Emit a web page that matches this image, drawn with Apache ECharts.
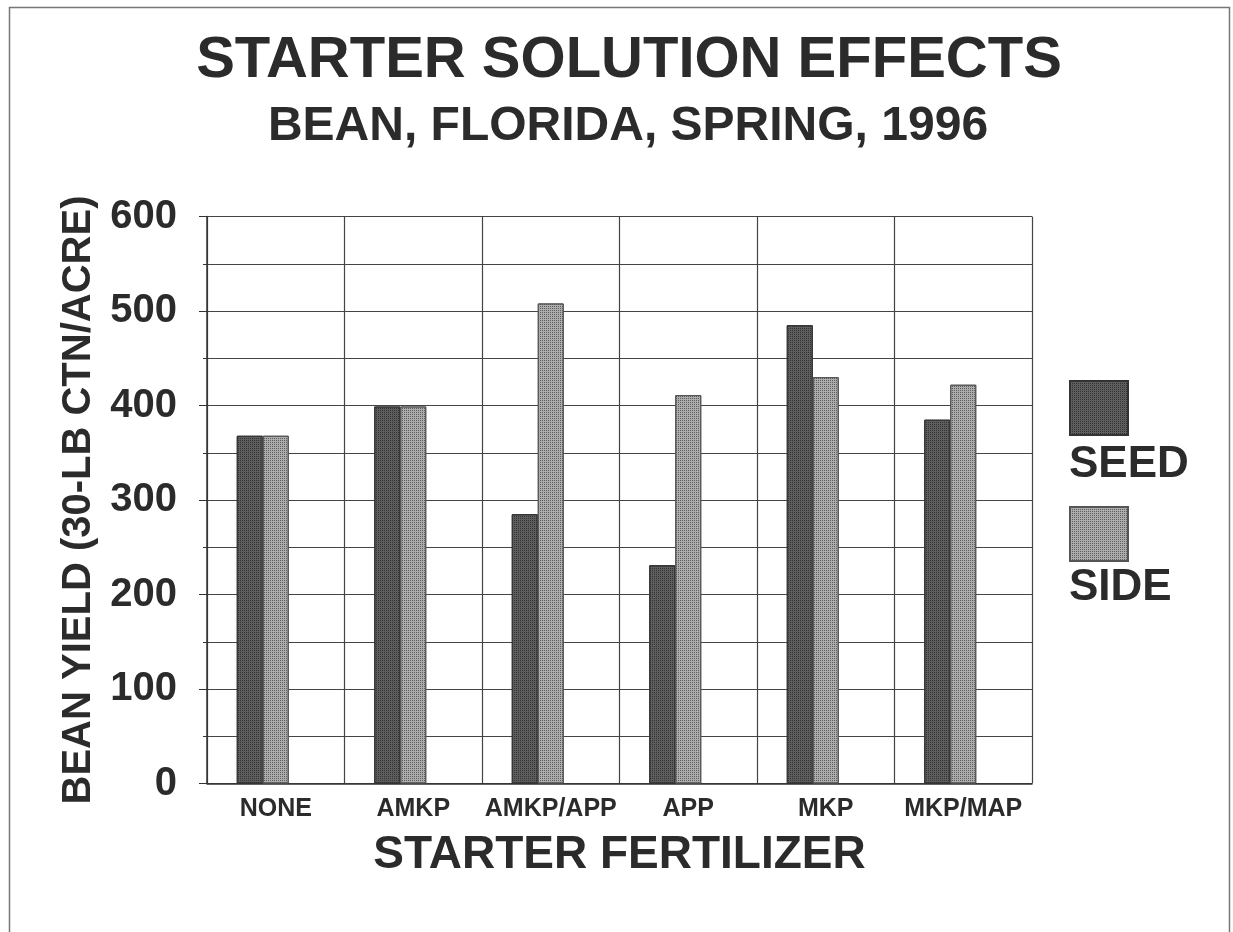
<!DOCTYPE html>
<html>
<head>
<meta charset="utf-8">
<script src="https://cdn.jsdelivr.net/npm/echarts@6/dist/echarts.min.js"></script>
<style>
  html, body { margin: 0; padding: 0; background: #fff; }
  #chart { width: 1233px; height: 932px; }
</style>
</head>
<body>
<div id="chart"></div>
<script>
// data
var categories = ["NONE", "AMKP", "AMKP/APP", "APP", "MKP", "MKP/MAP"];
var seedValues = [368, 399, 285, 231, 485, 385];
var sideValues = [368, 399, 508, 411, 430, 422];
var seriesNames = ["SEED", "SIDE"];

var font = "'Liberation Sans', Arial, sans-serif";
var ink = "#2b2b2b";
var gridColor = "#444";

var chart = echarts.init(document.getElementById("chart"));

var option = {
  backgroundColor: "#fff",
  animation: false,
  title: [
    {
      text: "STARTER SOLUTION EFFECTS",
      left: 624,
      top: 27,
      textAlign: "center",
      textStyle: { fontFamily: font, fontSize: 58, fontWeight: "bold", color: ink },
    },
    {
      text: "BEAN, FLORIDA, SPRING, 1996",
      left: 623,
      top: 98,
      textAlign: "center",
      textStyle: { fontFamily: font, fontSize: 48, fontWeight: "bold", color: ink },
    },
  ],
  legend: {
    data: seriesNames,
    orient: "vertical",
    left: 1069,
    top: 380,
    padding: 0,
    itemWidth: 58,
    itemHeight: 54,
    itemGap: 70,
    icon: "rect",
    formatter: function () { return ""; },
    selectedMode: false,
  },
  grid: {
    left: 207,
    right: 201,
    top: 216.5,
    bottom: 148.5,
  },
  xAxis: {
    type: "category",
    data: categories,
    name: "STARTER FERTILIZER",
    nameLocation: "middle",
    nameGap: 49,
    nameTextStyle: { fontFamily: font, fontSize: 46, fontWeight: "bold", color: ink },
    axisLine: { lineStyle: { color: "#333", width: 1.5 } },
    axisTick: { interval: 0, length: 10, lineStyle: { color: "#333" } },
    axisLabel: { interval: 0, fontFamily: font, fontSize: 25, fontWeight: "bold", color: ink, margin: 13 },
    splitLine: { show: true, interval: 0, lineStyle: { color: gridColor, width: 1.2 } },
  },
  yAxis: {
    type: "value",
    min: 0,
    max: 600,
    interval: 100,
    name: "BEAN YIELD (30-LB CTN/ACRE)",
    nameLocation: "middle",
    nameRotate: 90,
    nameGap: 105,
    nameTextStyle: { fontFamily: font, fontSize: 40, fontWeight: "bold", color: ink },
    axisLine: { show: true, lineStyle: { color: "#333", width: 1.5 } },
    axisTick: { show: true, length: 8, lineStyle: { color: "#333" } },
    minorTick: { show: true, splitNumber: 2, length: 4, lineStyle: { color: "#333" } },
    axisLabel: { fontFamily: font, fontSize: 40, fontWeight: "bold", color: ink, margin: 30 },
    splitLine: { show: true, lineStyle: { color: gridColor, width: 1.2 } },
    minorSplitLine: { show: true, lineStyle: { color: gridColor, width: 1.2 } },
  },
  series: [
    {
      name: seriesNames[0],
      type: "bar",
      data: seedValues,
      barWidth: 26,
      barGap: "0%",
      itemStyle: {
        color: "#5e5e5e",
        borderColor: "#333",
        borderWidth: 1,
        decal: {
          symbol: "rect",
          symbolSize: 1,
          dashArrayX: [1, 1],
          dashArrayY: [1, 1],
          color: "#333",
        },
      },
    },
    {
      name: seriesNames[1],
      type: "bar",
      data: sideValues,
      barWidth: 26,
      barGap: "0%",
      itemStyle: {
        color: "#adadad",
        borderColor: "#555",
        borderWidth: 1,
        decal: {
          symbol: "rect",
          symbolSize: 1,
          dashArrayX: [1, 1],
          dashArrayY: [1, 1],
          color: "#5c5c5c",
        },
      },
    },
    {
      // empty slot so the pair sits left of the category centre, as in the original
      name: "spacer",
      type: "bar",
      data: [],
      barWidth: 26,
      barGap: "0%",
      silent: true,
    },
  ],
  graphic: [
    {
      type: "rect",
      shape: { x: 9.5, y: 7.5, width: 1220, height: 940 },
      style: { fill: null, stroke: "#777", lineWidth: 1.5 },
      silent: true,
    },
    {
      type: "text",
      left: 1069,
      top: 443,
      style: { text: "SEED", fontFamily: font, fontSize: 44, fontWeight: "bold", fill: ink },
    },
    {
      type: "text",
      left: 1069,
      top: 566,
      style: { text: "SIDE", fontFamily: font, fontSize: 44, fontWeight: "bold", fill: ink },
    },
  ],
};

chart.setOption(option);
</script>
</body>
</html>
